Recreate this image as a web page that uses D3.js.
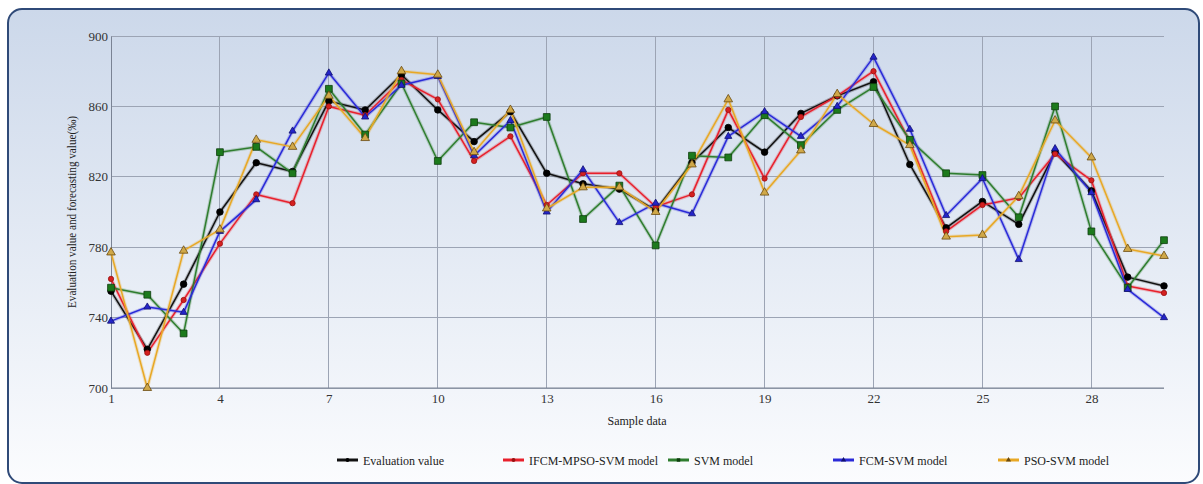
<!DOCTYPE html>
<html>
<head>
<meta charset="utf-8">
<script src="https://cdn.jsdelivr.net/npm/d3@7"></script>
<style>
  html, body { margin: 0; padding: 0; background: #ffffff; }
  svg { display: block; }
  svg text { font-family: "Liberation Serif", "Times New Roman", serif !important; }
</style>
</head>
<body>
<svg id="chart" width="1203" height="484"></svg>
<script>
const samples = d3.range(1, 31);
const xTicks = [1, 4, 7, 10, 13, 16, 19, 22, 25, 28];
const yTicks = [700, 740, 780, 820, 860, 900];

const evaluationValue = [755, 722, 759, 800, 828, 823, 863, 858, 878, 858, 840, 857, 822, 816, 813, 801, 828, 848, 834, 856, 866, 874, 827, 791, 806, 793, 834, 812, 763, 758];
const ifcmMpsoSvm     = [762, 720, 750, 782, 810, 805, 860, 855, 875, 864, 829, 843, 804, 822, 822, 803, 810, 858, 819, 854, 866, 880, 840, 789, 804, 808, 833, 818, 758, 754];
const svmModel        = [757, 753, 731, 834, 837, 822, 870, 844, 873, 829, 851, 848, 854, 796, 815, 781, 832, 831, 855, 838, 858, 871, 841, 822, 821, 797, 860, 789, 757, 784];
const fcmSvm          = [738, 746, 743, 789, 807, 846, 879, 854, 872, 877, 832, 852, 800, 824, 794, 805, 799, 843, 857, 843, 860, 888, 847, 798, 819, 773, 836, 811, 756, 740];
const psoSvm          = [777, 700, 778, 790, 841, 837, 866, 842, 880, 878, 834, 858, 802, 814, 814, 800, 827, 864, 811, 835, 867, 850, 838, 786, 787, 809, 852, 831, 779, 775];

const seriesNames = ["Evaluation value", "IFCM-MPSO-SVM model", "SVM model", "FCM-SVM model", "PSO-SVM model"];

const series = [
  { name: seriesNames[0], values: evaluationValue, color: "#111111", fill: "#000000", stroke: "#000000", shape: "circle", size: 34 },
  { name: seriesNames[1], values: ifcmMpsoSvm,     color: "#e8202c", fill: "#d42020", stroke: "#9a1010", shape: "circle", size: 22 },
  { name: seriesNames[2], values: svmModel,        color: "#2e7d2e", fill: "#1c7a1c", stroke: "#0e3e0e", shape: "square", size: 46 },
  { name: seriesNames[3], values: fcmSvm,          color: "#2a2ad8", fill: "#2424c8", stroke: "#101070", shape: "triangle", size: 22 },
  { name: seriesNames[4], values: psoSvm,          color: "#e8a825", fill: "#d0a848", stroke: "#6a4a10", shape: "triangle", size: 32 }
];

const svg = d3.select("#chart");
const SERIF = "Liberation Serif, Times New Roman, serif";

// background panel
const defs = svg.append("defs");
const grad = defs.append("linearGradient").attr("id", "bg").attr("x1", 0).attr("y1", 0).attr("x2", 0).attr("y2", 1);
grad.append("stop").attr("offset", "0%").attr("stop-color", "#ccd8ea");
grad.append("stop").attr("offset", "100%").attr("stop-color", "#fbfcfe");

svg.append("rect")
  .attr("x", 8).attr("y", 9).attr("width", 1191).attr("height", 474)
  .attr("rx", 14).attr("ry", 14)
  .attr("fill", "url(#bg)")
  .attr("stroke", "#2f4a78").attr("stroke-width", 2);

const x = d3.scaleLinear().domain([1, 30]).range([111, 1164]);
const y = d3.scaleLinear().domain([700, 900]).range([388, 36]);

// grid
const grid = svg.append("g");
grid.selectAll("line.h").data(yTicks).join("line")
  .attr("x1", x(1)).attr("x2", x(30))
  .attr("y1", d => y(d)).attr("y2", d => y(d))
  .attr("stroke", "#9ca4b4").attr("stroke-width", 1).attr("shape-rendering", "crispEdges");
grid.selectAll("line.v").data(xTicks).join("line")
  .attr("x1", d => x(d)).attr("x2", d => x(d))
  .attr("y1", y(900)).attr("y2", y(700))
  .attr("stroke", "#9ca4b4").attr("stroke-width", 1).attr("shape-rendering", "crispEdges");

// axes
const yAxis = d3.axisLeft(y).tickValues(yTicks).tickSize(0).tickPadding(3);
const gy = svg.append("g").attr("transform", `translate(${x(1)},0)`).call(yAxis);
gy.attr("font-family", SERIF);
gy.select(".domain").attr("stroke", "#7a8394");
gy.selectAll("text").attr("font-size", 13).attr("fill", "#333333");

const xAxis = d3.axisBottom(x).tickValues(xTicks).tickSize(0).tickPadding(6).tickFormat(d3.format("d"));
const gx = svg.append("g").attr("transform", `translate(0,${y(700)})`).call(xAxis);
gx.attr("font-family", SERIF);
gx.select(".domain").attr("stroke", "#7a8394").attr("d", `M${x(1)},0H${x(30)}`);
gx.selectAll("text").attr("font-size", 13).attr("fill", "#333333");

// axis titles
svg.append("text")
  .attr("transform", `translate(76,212) rotate(-90)`)
  .attr("text-anchor", "middle")
  .attr("font-family", SERIF)
  .attr("font-size", 11.5).attr("fill", "#222")
  .attr("textLength", 192).attr("lengthAdjust", "spacingAndGlyphs")
  .text("Evaluation value and forecasting value(‰)");

svg.append("text")
  .attr("x", 637).attr("y", 425)
  .attr("text-anchor", "middle")
  .attr("font-family", SERIF)
  .attr("font-size", 12).attr("fill", "#222")
  .text("Sample data");

// lines
const line = d3.line().x((d, i) => x(samples[i])).y(d => y(d));

function symbolType(shape) {
  if (shape === "square") return d3.symbolSquare;
  if (shape === "triangle") return d3.symbolTriangle;
  return d3.symbolCircle;
}

const lines = svg.append("g");
series.forEach(s => {
  const g = lines.append("g");
  g.append("path").datum(s.values)
    .attr("d", line).attr("fill", "none")
    .attr("stroke", s.color).attr("stroke-opacity", 0.25).attr("stroke-width", 3.5)
    .attr("stroke-linejoin", "round");
  g.append("path").datum(s.values)
    .attr("d", line).attr("fill", "none")
    .attr("stroke", s.color).attr("stroke-width", 1.5)
    .attr("stroke-linejoin", "round");
});

const marks = svg.append("g");
series.forEach(s => {
  const sym = d3.symbol().type(symbolType(s.shape)).size(s.size);
  marks.append("g").selectAll("path").data(s.values).join("path")
    .attr("transform", (d, i) => `translate(${x(samples[i])},${y(d)})`)
    .attr("d", sym())
    .attr("fill", s.fill).attr("stroke", s.stroke).attr("stroke-width", 0.8);
});

// legend
const legendX = [337, 503, 668, 833, 998];
const legend = svg.append("g");
series.forEach((s, i) => {
  const g = legend.append("g").attr("transform", `translate(${legendX[i]},460)`);
  g.append("line").attr("x1", 0).attr("x2", 21).attr("y1", 0).attr("y2", 0)
    .attr("stroke", s.color).attr("stroke-width", 3);
  g.append("path").attr("transform", "translate(10.5,0)")
    .attr("d", d3.symbol().type(symbolType(s.shape)).size(12)())
    .attr("fill", s.stroke);
  g.append("text").attr("x", 26).attr("y", 4.5)
    .attr("font-family", SERIF)
    .attr("font-size", 12).attr("fill", "#222")
    .text(s.name);
});
</script>
</body>
</html>
